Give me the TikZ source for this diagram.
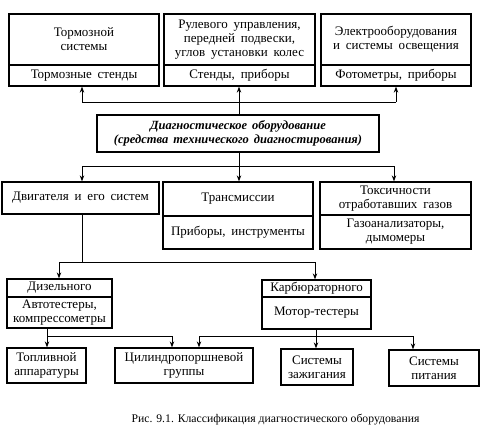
\documentclass[tikz,border=0pt]{standalone}
\usepackage{fontspec}
\setmainfont{Liberation Serif}
\usetikzlibrary{arrows.meta}
\newcommand\boxfnt{\fontsize{13}{14}\selectfont\spaceskip=0.45em plus 0.1em\relax}
\newcommand\diagfnt{\fontsize{12.5}{14}\selectfont\bfseries\itshape\spaceskip=0.4em plus 0.1em\relax}
\tikzset{
  box/.style={draw, line width=1.3pt, inner sep=0pt, align=center, font=\boxfnt},
  conn/.style={line width=0.9pt},
  arr/.style={line width=0.9pt, -{Stealth[length=6pt,width=4.5pt]}},
}
\begin{document}
\begin{tikzpicture}[x=1pt,y=-1pt]
\useasboundingbox (0,0) rectangle (482,429);
% top row
\node[box, minimum width=150pt, minimum height=51pt] (t1) at (84,39.5) {Тормозной\\системы};
\node[box, minimum width=150pt, minimum height=21pt] (t1b) at (84,75.5) {Тормозные стенды};
\node[box, minimum width=151pt, minimum height=51pt] (t2) at (239.5,39.5) {Рулевого управления,\\передней подвески,\\углов установки колес};
\node[box, minimum width=151pt, minimum height=21pt] (t2b) at (239.5,75.5) {Стенды, приборы};
\node[box, minimum width=150pt, minimum height=51pt] (t3) at (396,39.5) {Электрооборудования\\и системы освещения};
\node[box, minimum width=150pt, minimum height=21pt] (t3b) at (396,75.5) {Фотометры, приборы};
% diag
\node[box, minimum width=282pt, minimum height=37pt, font=\diagfnt] (diag) at (238,133.5) {Диагностическое оборудование\\(средства технического диагностирования)};
% row 2
\node[box, minimum width=157pt, minimum height=32pt] (A) at (80.5,198) {Двигателя и его систем};
\node[box, minimum width=150pt, minimum height=34pt] (B) at (238,199) {Трансмиссии};
\node[box, minimum width=150pt, minimum height=33pt] (Bb) at (238,232.5) {Приборы, инструменты};
\node[box, minimum width=151pt, minimum height=33pt] (C) at (395.5,198.5) {Токсичности\\отработавших газов};
\node[box, minimum width=151pt, minimum height=34pt] (Cb) at (395.5,232) {Газоанализаторы,\\дымомеры};
% row 3
\node[box, minimum width=105pt, minimum height=18pt] (D) at (59.5,288) {Дизельного};
\node[box, minimum width=105pt, minimum height=31pt] (Db) at (59.5,312.5) {Автотестеры,\\компрессометры};
\node[box, minimum width=109pt, minimum height=17pt] (K) at (316.5,288.5) {Карбюраторного};
\node[box, minimum width=109pt, minimum height=32pt] (Kb) at (316.5,313) {Мотор-тестеры};
% bottom row
\node[box, minimum width=79pt, minimum height=35pt] (F) at (46.5,365.5) {Топливной\\аппаратуры};
\node[box, minimum width=138pt, minimum height=35pt] (Cyl) at (184,365.5) {Цилиндропоршневой\\группы};
\node[box, minimum width=72pt, minimum height=36pt] (Ign) at (317,367) {Системы\\зажигания};
\node[box, minimum width=90pt, minimum height=36pt] (Pit) at (434,368) {Системы\\питания};
% caption
\node[font=\fontsize{11.7}{14}\selectfont] (cap) at (275.5,420) {Рис. 9.1. Классификация диагностического оборудования};
% connectors top
\coordinate (j1) at (239,102);
\coordinate (j1l) at (82,102);
\coordinate (j1r) at (396,102);
\draw[conn] (diag.north -| j1) -- (j1);
\draw[conn] (j1l) -- (j1r);
\draw[arr] (j1l) -- (j1l |- t1b.south);
\draw[arr] (j1) -- (j1 |- t2b.south);
\draw[arr] (j1r) -- (j1r |- t3b.south);
% connectors middle
\coordinate (j2) at (239,166);
\coordinate (j2l) at (82,166);
\coordinate (j2r) at (394,166);
\draw[conn] (diag.south -| j2) -- (j2);
\draw[conn] (j2l) -- (j2r);
\draw[arr] (j2l) -- (j2l |- A.north);
\draw[arr] (j2) -- (j2 |- B.north);
\draw[arr] (j2r) -- (j2r |- C.north);
% engine split
\coordinate (j3) at (82,262);
\coordinate (j3l) at (59,262);
\coordinate (j3r) at (315,262);
\draw[conn] (A.south -| j3) -- (j3);
\draw[conn] (j3l) -- (j3r);
\draw[arr] (j3l) -- (j3l |- D.north);
\draw[arr] (j3r) -- (j3r |- K.north);
% diesel
\coordinate (j4) at (47,336);
\coordinate (j4r) at (172,336);
\draw[conn] (Db.south -| j4) -- (j4) -- (j4r);
\draw[arr] (j4) -- (j4 |- F.north);
\draw[arr] (j4r) -- (j4r |- Cyl.north);
% carb
\coordinate (j5) at (316,336);
\coordinate (j5l) at (199,336);
\coordinate (j5r) at (413,336);
\draw[conn] (Kb.south -| j5) -- (j5);
\draw[conn] (j5l) -- (j5r);
\draw[arr] (j5l) -- (j5l |- Cyl.north);
\draw[arr] (j5) -- (j5 |- Ign.north);
\draw[arr] (j5r) -- (j5r |- Pit.north);
\end{tikzpicture}
\end{document}
